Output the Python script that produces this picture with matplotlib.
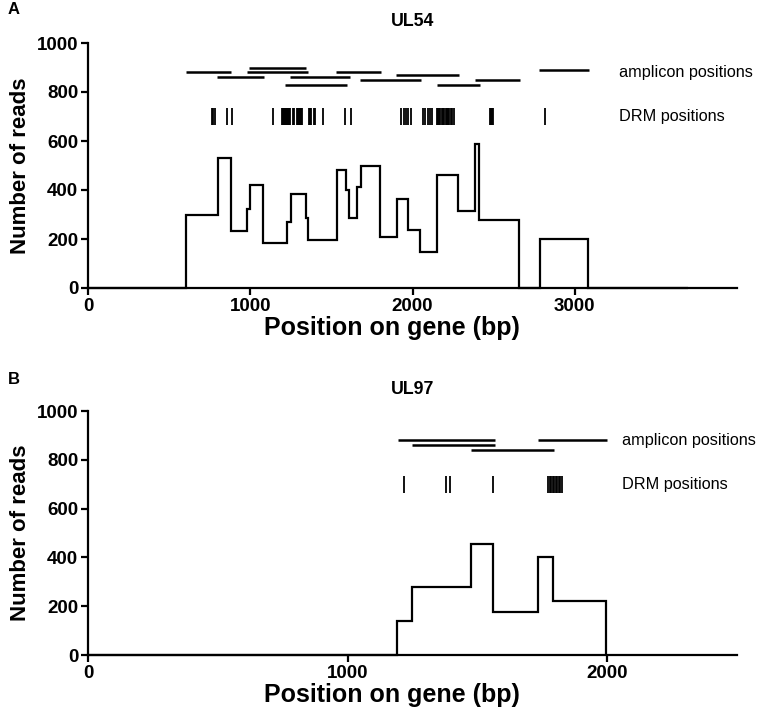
import matplotlib
matplotlib.use("Agg")
import matplotlib.pyplot as plt

plt.rcParams['font.family'] = ['Liberation Sans', 'DejaVu Sans']

# ---------------- data ----------------
# UL54 read coverage (step function)
ul54_edges = [0, 603, 800, 881, 980, 996, 1078, 1225, 1250, 1342, 1354, 1532, 1593,
              1609, 1658, 1685, 1802, 1904, 1975, 2047, 2153, 2278, 2386, 2407,
              2656, 2783, 3082, 3700]
ul54_reads = [0, 300, 530, 233, 322, 420, 185, 271, 385, 287, 197, 482, 399,
              287, 411, 498, 209, 362, 237, 148, 461, 314, 588, 278, 0, 200, 0]

ul54_amp_start = [601, 796, 990, 980, 1245, 1215, 1528, 1675, 1900, 2151, 2384, 2779]
ul54_amp_end = [883, 1082, 1344, 1358, 1613, 1597, 1808, 2053, 2284, 2415, 2660, 3086]
ul54_amp_level = [880, 860, 900, 880, 860, 830, 880, 850, 870, 830, 850, 890]

ul54_drm = [765, 772, 781, 857, 888, 1138, 1197, 1203, 1208, 1214, 1220, 1226, 1232,
            1238, 1244, 1265, 1270, 1290, 1296, 1302, 1308, 1314, 1320, 1360, 1368,
            1374, 1390, 1398, 1450, 1582, 1620, 1932, 1945, 1960, 1975, 1988, 2065,
            2080, 2095, 2110, 2122, 2151, 2158, 2165, 2172, 2180, 2188, 2195, 2204,
            2212, 2220, 2228, 2236, 2244, 2258, 2475, 2482, 2490, 2498, 2818]

# UL97 read coverage
ul97_edges = [0, 1191, 1247, 1474, 1561, 1735, 1790, 1997]
ul97_reads = [0, 140, 280, 455, 175, 400, 220]

ul97_amp_start = [1194, 1248, 1475, 1735]
ul97_amp_end = [1568, 1568, 1794, 2000]
ul97_amp_level = [880, 860, 840, 880]

ul97_drm = [1216, 1378, 1396, 1561, 1772, 1778, 1784, 1790, 1796, 1802, 1808,
            1814, 1820, 1825]

panels = [
    dict(title="UL54", letter="A", edges=ul54_edges, reads=ul54_reads,
         a0=ul54_amp_start, a1=ul54_amp_end, ay=ul54_amp_level, drm=ul54_drm,
         xmax=4000, xticks=[0, 1000, 2000, 3000], textx=3270,
         rect=[88/780, 1-288/712, 649/780, 245/712], letter_y=1-9/712),
    dict(title="UL97", letter="B", edges=ul97_edges, reads=ul97_reads,
         a0=ul97_amp_start, a1=ul97_amp_end, ay=ul97_amp_level, drm=ul97_drm,
         xmax=2500, xticks=[0, 1000, 2000], textx=2058,
         rect=[88/780, 1-655/712, 649/780, 244/712], letter_y=1-380/712),
]

fig = plt.figure(figsize=(7.8, 7.12), dpi=100)

for p in panels:
    ax = fig.add_axes(p["rect"])
    ax.stairs(p["reads"], p["edges"], baseline=0, color="black", lw=1.6,
              clip_on=False)
    ax.hlines(p["ay"], p["a0"], p["a1"], color="black", lw=1.8)
    ax.vlines(p["drm"], 665, 735, color="black", lw=1.3)
    ax.text(p["textx"], 880, "amplicon positions", fontsize=11.7, va="center", ha="left")
    ax.text(p["textx"], 700, "DRM positions", fontsize=11.7, va="center", ha="left")

    ax.set_xlim(0, p["xmax"])
    ax.set_ylim(0, 1000)
    ax.set_xticks(p["xticks"])
    ax.set_yticks([0, 200, 400, 600, 800, 1000])
    for s in ["top", "right"]:
        ax.spines[s].set_visible(False)
    for s in ["left", "bottom"]:
        ax.spines[s].set_linewidth(1.6)
    ax.tick_params(direction="out", length=5, width=1.6, labelsize=13.5, pad=2)
    for lab in ax.get_xticklabels() + ax.get_yticklabels():
        lab.set_fontweight("bold")
    ax.set_xlabel("Position on gene (bp)", fontsize=18, fontweight="bold",
                  va="center")
    ax.xaxis.set_label_coords(0.468, -0.165)
    ax.set_ylabel("Number of reads", fontsize=16, fontweight="bold", va="center")
    ax.yaxis.set_label_coords(-0.104, 0.5)
    ax.set_title(p["title"], fontsize=12.8, fontweight="bold", pad=12)
    fig.text(8/780, p["letter_y"], p["letter"], fontsize=12, fontweight="bold",
             va="center", ha="left")

fig.savefig("out.png", dpi=100)
